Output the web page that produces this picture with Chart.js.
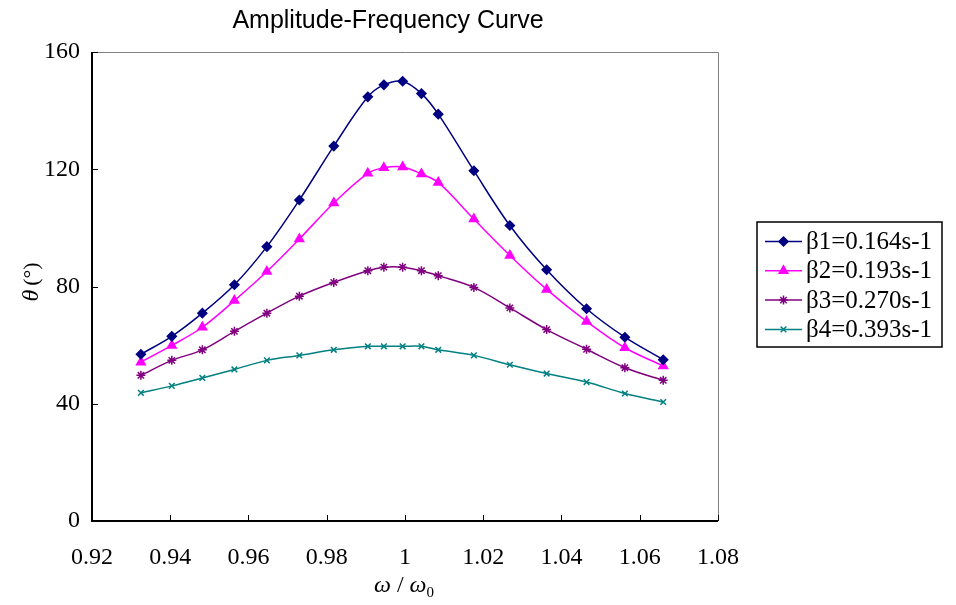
<!DOCTYPE html>
<html>
<head>
<meta charset="utf-8">
<script src="https://cdn.jsdelivr.net/npm/chart.js@4.4.0/dist/chart.umd.min.js"></script>
<style>
  html, body { margin: 0; padding: 0; background: #fff; }
  #wrap { width: 956px; height: 605px; }
</style>
</head>
<body>
<div id="wrap"><canvas id="ampChart" width="956" height="605"></canvas></div>
<script>
// omega / omega0 values (shared by all four series)
const ratio = [0.9325, 0.9404, 0.9482, 0.9564, 0.9647, 0.9730, 0.9818, 0.9905, 0.9946, 0.9994,
               1.0042, 1.0085, 1.0176, 1.0268, 1.0362, 1.0464, 1.0562, 1.0660];

// amplitude theta (degrees) for each damping coefficient
const beta1 = [56.9, 63.0, 70.9, 80.6, 93.6, 109.5, 127.9, 144.7, 148.8, 150.0,
               145.8, 138.8, 119.5, 100.8, 85.7, 72.4, 62.7, 55.0];
const beta2 = [54.2, 59.9, 66.1, 75.2, 85.1, 96.2, 108.5, 118.6, 120.5, 120.8,
               118.4, 115.5, 103.0, 90.6, 79.0, 68.1, 59.1, 52.9];
const beta3 = [49.7, 54.8, 58.4, 64.7, 70.9, 76.7, 81.4, 85.4, 86.6, 86.6,
               85.4, 83.7, 79.7, 72.7, 65.3, 58.6, 52.3, 48.0];
const beta4 = [43.7, 46.1, 48.8, 51.7, 54.8, 56.5, 58.4, 59.6, 59.6, 59.6,
               59.6, 58.4, 56.5, 53.3, 50.3, 47.4, 43.5, 40.6];

const seriesLabels = ['β1=0.164s-1', 'β2=0.193s-1', 'β3=0.270s-1', 'β4=0.393s-1'];
const yTicks = [0, 40, 80, 120, 160];
const xTicks = [0.92, 0.94, 0.96, 0.98, 1, 1.02, 1.04, 1.06, 1.08];

const chartTitle = 'Amplitude-Frequency Curve';

function toPoints(ys) {
  return ratio.map((x, i) => ({ x: x, y: ys[i] }));
}

function makeSet(label, ys, color, style, radius) {
  return {
    label: label,
    data: toPoints(ys),
    borderColor: color,
    backgroundColor: color,
    borderWidth: 1.5,
    pointStyle: style,
    pointRadius: radius,
    pointBorderWidth: 1.5,
    pointBorderColor: color,
    pointBackgroundColor: color,
    tension: 0.35,
    fill: false
  };
}

// frame, inside tick marks, title, axis titles and boxed legend
const decorations = {
  id: 'decorations',
  beforeDatasetsDraw(chart) {
    const ctx = chart.ctx;
    const a = chart.chartArea;
    const xs = chart.scales.x, ys = chart.scales.y;
    ctx.save();
    // top and right edges, grey
    ctx.strokeStyle = '#808080';
    ctx.lineWidth = 1;
    ctx.beginPath();
    ctx.moveTo(a.left, a.top + 0.5);
    ctx.lineTo(a.right + 0.5, a.top + 0.5);
    ctx.lineTo(a.right + 0.5, a.bottom);
    ctx.stroke();
    // left and bottom axes, black
    ctx.strokeStyle = '#000';
    ctx.lineWidth = 2;
    ctx.beginPath();
    ctx.moveTo(a.left, a.top);
    ctx.lineTo(a.left, a.bottom);
    ctx.lineTo(a.right, a.bottom);
    ctx.stroke();
    // tick marks pointing inward
    ctx.lineWidth = 1;
    ctx.beginPath();
    yTicks.forEach(v => {
      const p = Math.round(ys.getPixelForValue(v)) + 0.5;
      ctx.moveTo(a.left, p);
      ctx.lineTo(a.left + 6, p);
    });
    xTicks.forEach(v => {
      const p = Math.round(xs.getPixelForValue(v)) + 0.5;
      ctx.moveTo(p, a.bottom);
      ctx.lineTo(p, a.bottom - 6);
    });
    ctx.stroke();
    ctx.restore();
  },
  afterDraw(chart) {
    const ctx = chart.ctx;
    ctx.save();
    ctx.fillStyle = '#000';

    // chart title
    ctx.font = '25px "Liberation Sans", Arial, sans-serif';
    ctx.textAlign = 'center';
    ctx.textBaseline = 'middle';
    ctx.fillText(chartTitle, 388, 21);

    // x axis title: omega / omega0
    ctx.textBaseline = 'alphabetic';
    ctx.font = 'italic 24px "Liberation Serif", serif';
    const w1 = ctx.measureText('ω').width;
    ctx.font = '24px "Liberation Serif", serif';
    const ws = ctx.measureText(' / ').width;
    ctx.font = '15px "Liberation Serif", serif';
    const w0 = ctx.measureText('0').width;
    let x = 404 - (w1 * 2 + ws + w0) / 2;
    const base = 592;
    ctx.textAlign = 'left';
    ctx.font = 'italic 24px "Liberation Serif", serif';
    ctx.fillText('ω', x, base); x += w1;
    ctx.font = '24px "Liberation Serif", serif';
    ctx.fillText(' / ', x, base); x += ws;
    ctx.font = 'italic 24px "Liberation Serif", serif';
    ctx.fillText('ω', x, base); x += w1;
    ctx.font = '15px "Liberation Serif", serif';
    ctx.fillText('0', x, base + 5);

    // y axis title: theta (deg), rotated
    ctx.translate(38, 282);
    ctx.rotate(-Math.PI / 2);
    ctx.font = 'italic 24px "Liberation Serif", serif';
    const wt = ctx.measureText('θ').width + 4;
    ctx.font = '22px "Liberation Serif", serif';
    const wd = ctx.measureText('(°)').width;
    let tx = -(wt + wd) / 2;
    ctx.font = 'italic 24px "Liberation Serif", serif';
    ctx.fillText('θ', tx, 0); tx += wt;
    ctx.font = '22px "Liberation Serif", serif';
    ctx.fillText('(°)', tx, 0);
    ctx.setTransform(1, 0, 0, 1, 0, 0);

    // legend box
    const lx = 757, ly = 222, lw = 185, lh = 125;
    ctx.strokeStyle = '#000';
    ctx.lineWidth = 1.5;
    ctx.strokeRect(lx, ly, lw, lh);
    ctx.font = '25px "Liberation Serif", serif';
    ctx.textAlign = 'left';
    ctx.textBaseline = 'middle';
    chart.data.datasets.forEach((ds, i) => {
      const cy = 241.5 + i * 29.3;
      ctx.strokeStyle = ds.borderColor;
      ctx.lineWidth = 1.5;
      ctx.beginPath();
      ctx.moveTo(765, cy);
      ctx.lineTo(802, cy);
      ctx.stroke();
      ctx.fillStyle = ds.borderColor;
      ctx.lineWidth = 1.5;
      Chart.helpers.drawPoint(ctx, {
        pointStyle: ds.pointStyle,
        rotation: 0,
        radius: ds.pointRadius,
        borderWidth: 1.5
      }, 783.5, cy);
      ctx.fillStyle = '#000';
      ctx.fillText(ds.label, 806, cy + 1);
    });
    ctx.restore();
  }
};

new Chart(document.getElementById('ampChart'), {
  type: 'line',
  data: {
    datasets: [
      makeSet(seriesLabels[0], beta1, '#000080', 'rectRot', 4.5),
      makeSet(seriesLabels[1], beta2, '#FF00FF', 'triangle', 5),
      makeSet(seriesLabels[2], beta3, '#800080', 'star', 4.5),
      makeSet(seriesLabels[3], beta4, '#008080', 'crossRot', 4)
    ]
  },
  options: {
    responsive: false,
    animation: false,
    devicePixelRatio: 1,
    layout: { padding: { top: 52, right: 238, left: 0, bottom: 0 } },
    plugins: {
      legend: { display: false },
      title: { display: false },
      tooltip: { enabled: false }
    },
    scales: {
      x: {
        type: 'linear',
        min: 0.92,
        max: 1.08,
        afterFit(scale) { scale.height = 84; },
        afterBuildTicks(scale) { scale.ticks = xTicks.map(v => ({ value: v })); },
        grid: { display: false, drawTicks: false },
        border: { display: false },
        ticks: {
          padding: 22,
          color: '#000',
          font: { family: '"Liberation Serif", serif', size: 24 },
          callback: v => String(Number(v.toFixed(2)))
        }
      },
      y: {
        min: 0,
        max: 160,
        afterFit(scale) { scale.width = 92; },
        afterBuildTicks(scale) { scale.ticks = yTicks.map(v => ({ value: v })); },
        grid: { display: false, drawTicks: false },
        border: { display: false },
        ticks: {
          padding: 12,
          color: '#000',
          font: { family: '"Liberation Serif", serif', size: 24 }
        }
      }
    }
  },
  plugins: [decorations]
});
</script>
</body>
</html>
